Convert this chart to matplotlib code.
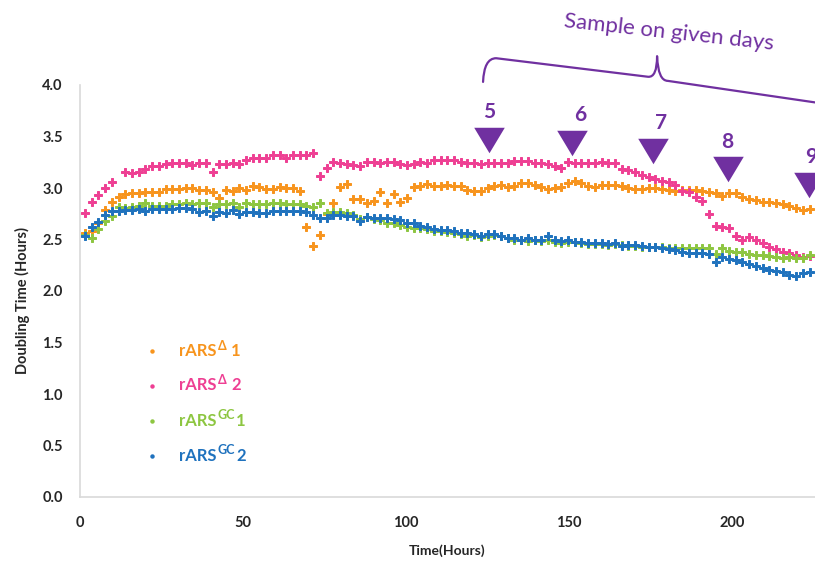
import numpy as np
import matplotlib
matplotlib.use("Agg")
import matplotlib.pyplot as plt
from matplotlib.path import Path
from matplotlib.patches import PathPatch

plt.rcParams["font.family"] = ["Lato", "DejaVu Sans"]

W, H, DPI = 815, 565, 100

# growth readings, one roughly every two hours
sample_hours = np.linspace(1.7, 223.6, 109)

rars_delta_1 = [
    2.56, 2.58, 2.66, 2.79, 2.86, 2.91, 2.94, 2.95, 2.95, 2.96, 2.96, 2.96, 2.99, 2.99, 2.99, 3.00, 3.00, 2.98, 2.98, 2.96, 2.90,
    2.98, 2.97, 3.00, 2.98, 3.02, 3.01, 2.99, 2.99, 3.01, 3.00, 3.00, 2.97, 2.62, 2.44, 2.54, 2.75, 2.85, 3.01, 3.04, 2.89, 2.89,
    2.85, 2.87, 2.96, 2.85, 2.94, 2.86, 2.90, 3.01, 3.02, 3.04, 3.02, 3.02, 3.03, 3.02, 3.02, 2.98, 2.97, 2.97, 3.00, 3.02, 3.03,
    3.01, 3.02, 3.05, 3.05, 3.03, 3.01, 2.99, 3.00, 3.01, 3.05, 3.07, 3.05, 3.02, 3.01, 3.03, 3.03, 3.03, 3.02, 3.00, 2.99, 2.99, 3.00,
    3.00, 2.99, 2.98, 2.97, 2.98, 2.98, 2.98, 2.97, 2.96, 2.95, 2.92, 2.95, 2.95, 2.91, 2.89, 2.88, 2.86, 2.86, 2.85, 2.84, 2.83, 2.81, 2.79, 2.80,
]
rars_delta_2 = [
    2.76, 2.86, 2.93, 3.00, 3.06, np.nan, 3.16, 3.15, 3.16, 3.18, 3.21, 3.21, 3.23, 3.24, 3.24, 3.24, 3.22, 3.24, 3.24, 3.16, 3.23,
    3.23, 3.24, 3.23, 3.27, 3.29, 3.29, 3.29, 3.32, 3.32, 3.29, 3.32, 3.32, 3.32, 3.34, 3.12, 3.19, 3.25, 3.24, 3.23, 3.22, 3.21,
    3.25, 3.25, 3.24, 3.25, 3.25, 3.23, 3.22, 3.23, 3.25, 3.24, 3.27, 3.27, 3.27, 3.27, 3.25, 3.24, 3.24, 3.23, 3.24, 3.24, 3.24,
    3.24, 3.26, 3.26, 3.26, 3.24, 3.24, 3.23, 3.21, 3.19, 3.25, 3.24, 3.24, 3.24, 3.24, 3.25, 3.24, 3.24, 3.18, 3.17, 3.16, 3.13, 3.11,
    3.09, 3.07, 3.06, 3.03, 2.97, 2.96, 2.91, 2.87, 2.75, 2.63, 2.62, 2.61, 2.53, 2.50, 2.52, 2.50, 2.47, 2.43, 2.41, 2.38, 2.37, 2.35, 2.33, 2.34,
]
rars_gc_1 = [
    2.54, 2.51, 2.60, 2.68, 2.73, 2.82, 2.81, 2.82, 2.83, 2.85, 2.83, 2.83, 2.83, 2.84, 2.84, 2.85, 2.84, 2.85, 2.85, 2.82, 2.84,
    2.84, 2.85, 2.82, 2.85, 2.84, 2.84, 2.84, 2.85, 2.85, 2.84, 2.84, 2.84, 2.83, 2.82, 2.85, 2.76, 2.77, 2.77, 2.76, 2.74, 2.70,
    2.72, 2.70, 2.69, 2.66, 2.66, 2.64, 2.62, 2.61, 2.61, 2.60, 2.58, 2.58, 2.57, 2.56, 2.55, 2.53, 2.54, 2.52, 2.53, 2.54, 2.53,
    2.51, 2.50, 2.50, 2.49, 2.50, 2.49, 2.50, 2.48, 2.47, 2.48, 2.48, 2.47, 2.46, 2.46, 2.46, 2.45, 2.46, 2.45, 2.44, 2.44, 2.43, 2.43,
    2.43, 2.43, 2.42, 2.42, 2.42, 2.42, 2.42, 2.42, 2.42, 2.36, 2.42, 2.39, 2.38, 2.38, 2.36, 2.35, 2.35, 2.34, 2.33, 2.32, 2.33, 2.32, 2.32, 2.35,
]
rars_gc_2 = [
    2.53, 2.62, 2.67, 2.74, 2.78, 2.78, 2.79, 2.79, 2.80, 2.78, 2.80, 2.80, 2.80, 2.80, 2.81, 2.81, 2.80, 2.77, 2.78, 2.73, 2.77,
    2.76, 2.79, 2.75, 2.77, 2.77, 2.76, 2.76, 2.78, 2.78, 2.78, 2.78, 2.78, 2.77, 2.74, 2.71, 2.71, 2.74, 2.74, 2.73, 2.73, 2.68,
    2.72, 2.71, 2.71, 2.71, 2.70, 2.69, 2.66, 2.66, 2.63, 2.62, 2.60, 2.59, 2.59, 2.58, 2.56, 2.56, 2.55, 2.53, 2.55, 2.55, 2.53,
    2.51, 2.51, 2.50, 2.51, 2.50, 2.50, 2.53, 2.50, 2.49, 2.50, 2.48, 2.48, 2.47, 2.47, 2.47, 2.46, 2.47, 2.44, 2.45, 2.45, 2.44, 2.43,
    2.43, 2.42, 2.41, 2.40, 2.38, 2.37, 2.37, 2.37, 2.36, 2.28, 2.33, 2.31, 2.30, 2.28, 2.26, 2.24, 2.22, 2.20, 2.19, 2.18, 2.16, 2.15, 2.17, 2.18,
]

series = [rars_delta_1, rars_delta_2, rars_gc_1, rars_gc_2]
series_colors = ["#F7941D", "#EE3F93", "#8DC641", "#1F72BE"]
series_names = [("rARS", "Δ", "1"), ("rARS", "Δ", "2"), ("rARS", "GC", "1"), ("rARS", "GC", "2")]

x_ticks = [0, 50, 100, 150, 200]
y_ticks = [0.0, 0.5, 1.0, 1.5, 2.0, 2.5, 3.0, 3.5, 4.0]

# sampling days marked above the curves
sample_days = ["5", "6", "7", "8", "9"]
day_hours = [125.5, 150.8, 175.7, 198.7, 223.4]
day_levels = [3.47, 3.44, 3.36, 3.18, 3.03]
day_label_dx = [0, 6, 6, -1, 2]

PURPLE = "#7030A0"
AXIS_GREY = "#D9D9D9"
TEXT_DARK = "#262626"

fig = plt.figure(figsize=(W / DPI, H / DPI), dpi=DPI)
ax = fig.add_axes([79.5 / W, (H - 497) / H, 1 - 79.5 / W, (497 - 85) / H])
ax.set_xlim(0, (W - 79.5) / 3.265)
ax.set_ylim(0, 4)

for vals, col in zip(series, series_colors):
    ax.plot(sample_hours, np.asarray(vals, dtype=float), linestyle="none",
            marker="P", markersize=5.6, markeredgewidth=0.7, markeredgecolor=col,
            color=col)

for side in ("top", "right"):
    ax.spines[side].set_visible(False)
for side in ("left", "bottom"):
    ax.spines[side].set_color(AXIS_GREY)
    ax.spines[side].set_linewidth(1.2)

ax.set_xticks(x_ticks)
ax.set_yticks(y_ticks)
ax.set_yticklabels([f"{v:.1f}" for v in y_ticks])
ax.tick_params(axis="both", length=0, labelsize=10.5, colors=TEXT_DARK)
ax.tick_params(axis="y", pad=12)
ax.tick_params(axis="x", pad=14)
for lab in ax.get_xticklabels() + ax.get_yticklabels():
    lab.set_fontweight("bold")

ax.set_xlabel("Time(Hours)", fontsize=10, fontweight="bold", color=TEXT_DARK, labelpad=10)
fig.text(22 / W, 1 - 300 / H, "Doubling Time (Hours)", rotation=90, ha="center", va="center",
         fontsize=10.5, fontweight="bold", color=TEXT_DARK)

# sampling-day arrows
tri = [(-0.6, 0.5), (0.6, 0.5), (0.0, -0.5)]
for day, hx, lvl, dx in zip(sample_days, day_hours, day_levels, day_label_dx):
    ax.plot([hx], [lvl], linestyle="none", marker=tri, markersize=22, color=PURPLE,
            markeredgewidth=0, clip_on=False, zorder=5)
    ax.annotate(day, (hx, lvl), xytext=(dx, 20), textcoords="offset points",
                ha="center", va="center", fontsize=15, fontweight="bold",
                color=PURPLE, annotation_clip=False)

# brace spanning the sampling period
brace_pts = [
    (123.6, 4.03), (123.9, 4.26), (127.6, 4.26),
    (174.1, 4.08),
    (176.9, 4.07), (176.9, 4.28),
    (177.2, 4.04), (180.2, 4.04),
    (260.0, 3.67),
]
brace_codes = [Path.MOVETO, Path.CURVE3, Path.CURVE3,
               Path.LINETO,
               Path.CURVE3, Path.CURVE3,
               Path.CURVE3, Path.CURVE3,
               Path.LINETO]
brace = PathPatch(Path(brace_pts, brace_codes), facecolor="none", edgecolor=PURPLE,
                  linewidth=1.6, clip_on=False, capstyle="round", joinstyle="round")
ax.add_patch(brace)
ax.text(180.6, 4.51, "Sample on given days", rotation=-6.2, rotation_mode="anchor",
        ha="center", va="center", fontsize=16, color=PURPLE, clip_on=False)

# legend drawn as coloured text rows
renderer = fig.canvas.get_renderer()
row_base = [356, 390.5, 425.5, 461]
for (base, sup, num), col, yb in zip(series_names, series_colors, row_base):
    fig.lines.append(plt.Line2D([152 / W], [1 - (yb - 5) / H], transform=fig.transFigure,
                                marker="o", markersize=3.2, markeredgewidth=0,
                                color=col, linestyle="none"))
    x = 179.0
    t = fig.text(x / W, 1 - yb / H, base, fontsize=12, fontweight="bold", color=col,
                 ha="left", va="baseline")
    x = t.get_window_extent(renderer).x1 + 1
    s = fig.text(x / W, 1 - (yb - 6.5) / H, sup, fontsize=9, fontweight="bold", color=col,
                 ha="left", va="baseline")
    gap = 5.0 if sup == "Δ" else 1.0
    x = s.get_window_extent(renderer).x1 + gap
    fig.text(x / W, 1 - yb / H, num, fontsize=12, fontweight="bold", color=col,
             ha="left", va="baseline")

fig.savefig("out.png", dpi=DPI)
